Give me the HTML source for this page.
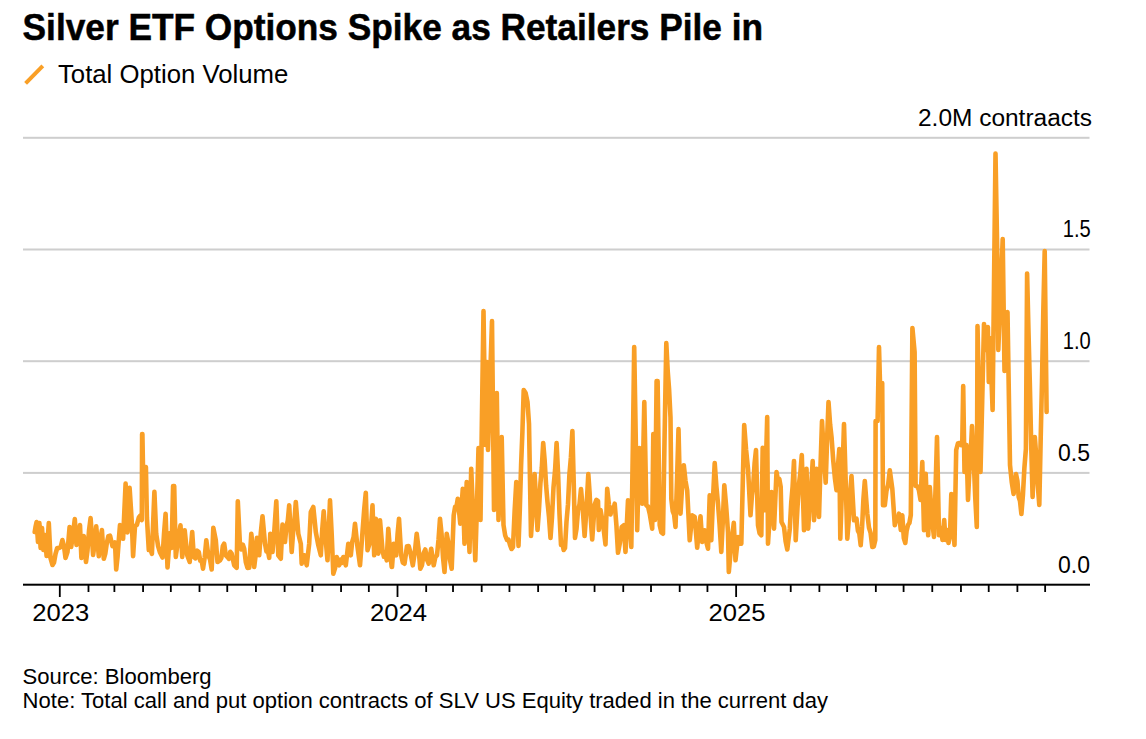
<!DOCTYPE html>
<html><head><meta charset="utf-8"><style>
html,body{margin:0;padding:0;background:#fff;width:1146px;height:739px;overflow:hidden}
svg{display:block}
text{font-family:"Liberation Sans",sans-serif;fill:#000}
.t{font-weight:bold;font-size:37px;stroke:#000;stroke-width:0.5px}
.lg{font-size:25px}
.ax{font-size:23px}
.ft{font-size:22px}
</style></head><body>
<svg width="1146" height="739" viewBox="0 0 1146 739">
<text x="22.6" y="40" class="t" textLength="740.5" lengthAdjust="spacingAndGlyphs">Silver ETF Options Spike as Retailers Pile in</text>
<line x1="25.6" y1="83.4" x2="42.8" y2="65.9" stroke="#F99F26" stroke-width="4" stroke-linecap="butt"/>
<text x="58" y="82.5" class="lg" textLength="230.2" lengthAdjust="spacingAndGlyphs">Total Option Volume</text>
<g fill="#cecece">
<rect x="23" y="136.8" width="1066.5" height="2"/>
<rect x="23" y="248.5" width="1066.5" height="2"/>
<rect x="23" y="360.2" width="1066.5" height="2"/>
<rect x="23" y="471.9" width="1066.5" height="2"/>
</g>
<g text-anchor="end" class="ax">
<text x="1092" y="126" textLength="174" lengthAdjust="spacingAndGlyphs">2.0M contraacts</text>
<text x="1090.8" y="237" textLength="28" lengthAdjust="spacingAndGlyphs">1.5</text>
<text x="1090.8" y="349" textLength="28" lengthAdjust="spacingAndGlyphs">1.0</text>
<text x="1090" y="461">0.5</text>
<text x="1090" y="573">0.0</text>
</g>
<path d="M34.7,532.0 L35.5,527.0 L36.6,522.0 L38.0,542.0 L39.4,523.0 L40.6,548.0 L42.0,528.0 L43.4,550.0 L45.0,535.0 L46.6,556.0 L48.8,523.0 L50.5,558.0 L52.5,565.0 L54.0,562.5 L55.5,554.0 L57.2,548.0 L59.0,548.0 L60.7,547.0 L62.4,540.0 L64.0,546.0 L65.5,558.0 L67.5,552.0 L69.6,527.0 L71.2,547.0 L73.0,534.0 L74.8,519.0 L76.5,545.0 L78.2,538.0 L80.0,525.0 L81.4,558.0 L83.8,536.0 L86.0,562.0 L87.5,550.4 L89.1,529.7 L90.6,518.1 L93.1,555.0 L94.7,543.6 L96.2,526.2 L98.8,556.2 L100.3,540.1 L101.9,530.0 L103.8,558.8 L105.3,553.6 L106.9,542.5 L108.4,536.1 L110.0,535.6 L112.5,546.2 L115.0,542.5 L116.2,569.4 L117.6,556.4 L119.0,537.5 L120.0,525.0 L121.6,528.9 L123.1,538.8 L125.6,483.5 L127.5,532.5 L129.6,487.9 L131.9,523.8 L133.1,556.2 L135.0,526.2 L136.9,524.9 L138.8,517.5 L140.2,515.8 L141.8,520.0 L142.1,434.0 L142.4,434.0 L143.2,480.0 L144.6,476.5 L145.9,467.0 L146.9,517.5 L148.8,550.0 L150.3,548.9 L151.9,553.8 L154.4,491.9 L156.2,533.8 L158.1,546.1 L160.0,552.5 L162.5,557.5 L164.1,532.6 L165.6,513.8 L167.5,567.5 L170.0,533.0 L171.6,548.0 L173.1,486.0 L174.2,486.0 L175.8,557.0 L178.0,540.0 L180.5,525.3 L182.2,557.0 L184.7,530.3 L187.2,555.3 L189.7,562.0 L192.2,532.0 L193.8,557.0 L195.5,558.3 L197.2,550.7 L198.8,552.0 L200.2,560.6 L201.6,560.1 L203.0,568.7 L204.7,557.5 L206.3,540.3 L208.3,555.3 L210.0,559.4 L211.7,569.5 L213.3,527.8 L215.8,540.3 L217.5,562.0 L220.0,560.3 L221.4,557.8 L222.8,546.2 L224.2,543.7 L225.8,555.3 L227.5,557.0 L228.9,558.9 L230.3,551.8 L231.7,553.7 L234.2,565.3 L236.7,567.8 L237.8,501.2 L240.0,545.3 L241.4,549.4 L242.8,544.6 L244.2,548.7 L245.8,562.0 L247.5,567.9 L249.2,567.8 L251.3,533.7 L252.8,547.3 L254.2,567.0 L255.6,555.4 L257.0,537.8 L259.2,555.3 L260.8,532.8 L262.5,516.2 L265.0,543.7 L266.4,551.4 L267.8,550.1 L269.2,557.8 L270.3,533.7 L272.5,552.0 L274.4,529.6 L276.3,501.2 L278.3,555.3 L280.8,558.7 L282.5,524.5 L285.0,542.0 L286.4,526.8 L287.8,520.6 L289.2,505.3 L291.7,552.0 L293.1,532.3 L294.4,521.7 L295.8,502.0 L298.3,533.7 L300.8,543.7 L301.7,563.7 L304.2,555.3 L306.7,565.3 L309.2,543.7 L310.8,512.0 L313.3,507.0 L315.8,532.0 L318.3,545.3 L320.8,555.3 L322.2,530.2 L323.7,511.2 L325.6,538.8 L327.5,560.3 L330.0,500.3 L331.7,534.0 L333.3,573.7 L335.0,568.3 L336.7,557.0 L339.2,565.3 L340.6,559.6 L341.9,562.8 L343.3,557.0 L345.8,565.3 L348.3,543.7 L350.8,555.3 L352.2,541.8 L353.6,537.2 L355.0,523.7 L357.5,547.0 L360.0,565.3 L362.5,532.0 L364.2,509.4 L365.8,492.8 L367.5,550.3 L370.0,542.0 L372.5,505.3 L374.2,555.3 L375.8,518.7 L378.3,553.7 L380.0,520.3 L382.5,550.3 L383.9,556.7 L385.3,554.0 L386.7,560.3 L388.3,528.7 L390.0,550.8 L391.7,567.0 L392.0,567.0 L393.7,543.7 L396.2,555.3 L397.6,534.0 L399.0,518.7 L401.2,555.3 L402.8,562.5 L404.5,563.7 L407.0,546.2 L408.7,546.1 L410.3,552.0 L412.8,565.3 L414.8,552.5 L416.7,533.7 L418.5,548.2 L420.3,568.7 L422.0,565.3 L423.7,552.9 L425.3,549.5 L427.0,559.6 L428.7,563.7 L431.2,548.7 L433.7,565.3 L435.3,557.3 L437.0,555.3 L438.5,540.0 L440.0,518.7 L441.5,533.4 L443.0,557.2 L444.5,572.0 L446.7,533.7 L448.3,542.3 L450.0,560.0 L451.7,568.7 L453.7,515.3 L455.1,506.8 L456.4,507.2 L457.8,498.7 L460.3,523.7 L462.8,488.7 L464.5,543.7 L466.7,482.0 L468.1,514.0 L469.5,552.0 L471.2,468.7 L472.6,502.2 L473.9,526.8 L475.3,560.3 L476.9,507.2 L478.5,448.0 L480.5,520.0 L482.0,412.5 L483.5,311.0 L485.5,445.0 L487.0,362.0 L488.0,450.0 L489.3,410.0 L490.7,361.0 L492.0,321.0 L494.0,510.0 L495.4,454.5 L496.8,393.0 L498.5,520.0 L500.1,475.5 L501.7,437.0 L503.5,525.0 L505.2,535.5 L507.0,540.0 L508.5,539.5 L510.0,545.0 L511.5,549.0 L513.0,547.0 L514.6,511.5 L516.3,482.0 L518.5,546.0 L519.8,510.0 L521.1,465.0 L522.4,432.0 L523.7,390.0 L525.6,393.0 L527.5,402.0 L529.0,424.0 L531.0,536.0 L532.8,508.0 L534.6,474.0 L536.0,499.0 L537.5,530.0 L538.9,511.2 L540.4,483.5 L541.8,467.8 L543.2,443.0 L544.6,459.7 L546.1,485.3 L547.5,502.0 L549.0,517.0 L550.5,538.0 L552.0,517.2 L553.5,487.5 L555.1,469.8 L556.6,443.0 L558.1,474.0 L559.5,514.0 L561.0,545.0 L562.3,543.0 L563.7,550.0 L565.0,548.0 L566.5,521.6 L568.0,504.2 L569.4,474.8 L570.9,457.4 L572.4,431.0 L573.7,481.5 L575.0,538.0 L576.5,528.8 L578.0,510.5 L579.5,504.2 L581.0,489.0 L582.8,509.5 L584.6,536.0 L586.5,508.0 L588.3,474.0 L589.6,492.8 L590.9,520.7 L592.2,539.5 L594.7,504.5 L596.4,499.8 L598.0,501.0 L598.8,530.0 L600.5,510.0 L603.0,523.7 L605.5,544.5 L607.2,488.7 L608.9,504.6 L610.5,514.5 L611.9,507.9 L613.3,510.3 L614.7,503.7 L616.4,525.2 L618.0,552.8 L619.9,542.9 L621.7,527.0 L623.8,525.3 L625.5,552.0 L628.0,500.3 L629.6,520.6 L631.3,547.0 L632.8,450.0 L634.2,347.0 L635.7,435.6 L637.2,530.3 L639.3,448.0 L640.8,478.9 L642.2,503.7 L644.3,402.0 L646.3,505.3 L648.0,506.5 L649.7,513.7 L652.2,528.7 L653.3,434.0 L655.0,520.0 L656.6,381.0 L657.6,381.0 L659.7,525.3 L661.4,532.5 L663.0,533.7 L664.6,435.4 L666.3,343.0 L667.7,370.8 L669.1,389.5 L670.5,417.3 L671.3,498.7 L672.7,511.1 L674.1,514.6 L675.5,527.0 L677.0,481.0 L678.5,429.0 L680.5,513.7 L682.1,486.5 L683.8,465.3 L685.5,480.8 L687.2,490.3 L689.7,540.3 L692.2,515.3 L694.7,517.0 L697.2,547.8 L698.9,529.0 L700.5,516.2 L702.2,542.0 L704.7,530.3 L706.4,542.5 L708.0,548.7 L709.7,495.3 L711.3,540.3 L713.0,498.6 L714.7,463.0 L716.4,486.4 L718.0,503.7 L719.6,524.9 L721.3,552.0 L722.8,521.6 L724.3,485.3 L726.1,505.6 L728.0,532.0 L728.8,572.0 L731.3,543.7 L733.8,522.8 L735.5,560.3 L738.0,537.0 L739.6,543.4 L741.3,543.7 L742.8,481.4 L744.2,425.0 L746.1,449.9 L748.0,468.7 L750.5,515.3 L751.9,496.0 L753.2,485.6 L754.6,463.3 L756.0,450.0 L758.0,525.3 L759.6,533.3 L761.3,535.3 L762.7,447.7 L764.7,510.3 L767.2,417.0 L768.0,543.7 L769.8,514.9 L771.5,492.0 L774.0,528.7 L776.5,472.0 L777.9,480.0 L779.3,479.0 L780.7,487.0 L781.5,522.0 L784.0,527.0 L785.6,541.2 L787.3,549.5 L789.8,528.7 L791.2,503.1 L792.6,486.6 L794.0,461.0 L795.7,540.3 L797.4,509.0 L799.0,483.7 L800.4,472.4 L801.8,455.0 L804.0,530.3 L806.5,468.7 L808.2,528.7 L809.7,503.1 L811.2,486.6 L812.7,461.0 L814.0,520.3 L816.5,468.7 L819.0,517.0 L820.5,466.0 L822.0,421.0 L823.9,454.9 L825.7,482.8 L827.1,439.4 L828.5,402.0 L830.1,424.3 L831.6,437.7 L833.2,460.0 L834.9,478.1 L836.5,490.3 L837.9,466.6 L839.3,449.0 L840.3,538.7 L842.1,484.4 L844.0,424.0 L845.6,478.4 L847.3,538.7 L848.7,520.8 L850.1,493.9 L851.5,476.0 L854.0,520.3 L856.5,518.7 L857.9,530.6 L859.3,533.4 L860.7,545.3 L862.1,526.9 L863.4,499.4 L864.8,481.0 L867.3,513.7 L869.0,527.8 L870.6,532.9 L872.3,547.0 L873.8,546.5 L875.3,540.0 L875.6,421.0 L877.6,421.0 L879.0,347.0 L880.0,383.0 L882.2,383.0 L883.0,505.3 L884.8,505.3 L886.5,490.6 L888.1,485.0 L889.8,470.3 L892.3,488.7 L894.8,525.3 L896.2,518.4 L897.6,520.6 L899.0,513.7 L900.8,530.0 L902.3,515.3 L903.8,538.0 L905.3,543.0 L906.6,531.0 L908.0,525.0 L909.4,523.0 L910.8,515.0 L912.4,328.0 L914.6,352.0 L915.6,486.0 L917.3,486.2 L918.9,490.1 L920.5,500.0 L922.3,462.0 L924.0,530.3 L925.7,473.7 L928.2,535.3 L929.8,487.0 L932.0,520.0 L934.0,537.0 L935.5,490.0 L937.0,437.0 L939.0,535.3 L941.0,528.0 L942.5,540.0 L944.2,520.0 L945.5,540.0 L947.0,530.0 L948.5,543.0 L950.0,535.0 L951.3,494.0 L952.5,520.0 L954.5,545.0 L956.2,450.0 L957.9,443.5 L959.5,443.0 L960.9,445.0 L962.3,441.0 L963.2,386.0 L964.5,472.0 L965.0,472.0 L966.5,445.0 L968.0,500.0 L969.3,472.3 L970.7,453.7 L972.0,426.0 L973.6,456.7 L975.2,496.3 L976.8,527.0 L977.5,326.0 L979.0,396.0 L980.5,472.0 L982.2,401.0 L984.0,324.0 L986.0,350.0 L987.9,327.0 L988.8,382.0 L989.8,338.0 L991.2,371.0 L992.6,410.0 L994.0,284.8 L995.5,153.5 L997.4,262.0 L998.3,350.0 L999.8,310.0 L1001.2,279.0 L1002.7,239.0 L1004.5,371.0 L1006.0,338.5 L1007.5,312.0 L1010.0,465.0 L1011.8,482.5 L1013.6,494.0 L1016.0,474.0 L1017.4,481.0 L1018.7,497.0 L1020.0,501.0 L1021.4,514.0 L1022.9,495.3 L1024.4,467.7 L1025.9,449.0 L1027.1,273.5 L1028.5,332.4 L1029.8,382.2 L1031.2,444.1 L1032.6,497.0 L1034.8,437.0 L1036.3,456.7 L1037.8,485.3 L1039.3,505.0 L1040.7,438.5 L1042.0,381.0 L1043.3,311.5 L1044.7,251.0 L1046.6,412.0" fill="none" stroke="#F99F26" stroke-width="4.6" stroke-linejoin="round" stroke-linecap="round"/>
<rect x="23" y="583.7" width="1067" height="2" fill="#000"/>
<rect x="58.90" y="585" width="1.8" height="12" fill="#000"/><rect x="87.58" y="585" width="1.8" height="7" fill="#000"/><rect x="113.49" y="585" width="1.8" height="7" fill="#000"/><rect x="142.17" y="585" width="1.8" height="7" fill="#000"/><rect x="169.92" y="585" width="1.8" height="7" fill="#000"/><rect x="198.61" y="585" width="1.8" height="7" fill="#000"/><rect x="226.36" y="585" width="1.8" height="7" fill="#000"/><rect x="255.04" y="585" width="1.8" height="7" fill="#000"/><rect x="283.72" y="585" width="1.8" height="7" fill="#000"/><rect x="311.48" y="585" width="1.8" height="7" fill="#000"/><rect x="340.16" y="585" width="1.8" height="7" fill="#000"/><rect x="367.92" y="585" width="1.8" height="7" fill="#000"/><rect x="396.60" y="585" width="1.8" height="12" fill="#000"/><rect x="425.28" y="585" width="1.8" height="7" fill="#000"/><rect x="452.11" y="585" width="1.8" height="7" fill="#000"/><rect x="480.79" y="585" width="1.8" height="7" fill="#000"/><rect x="508.55" y="585" width="1.8" height="7" fill="#000"/><rect x="537.23" y="585" width="1.8" height="7" fill="#000"/><rect x="564.99" y="585" width="1.8" height="7" fill="#000"/><rect x="593.67" y="585" width="1.8" height="7" fill="#000"/><rect x="622.35" y="585" width="1.8" height="7" fill="#000"/><rect x="650.11" y="585" width="1.8" height="7" fill="#000"/><rect x="678.79" y="585" width="1.8" height="7" fill="#000"/><rect x="706.54" y="585" width="1.8" height="7" fill="#000"/><rect x="735.23" y="585" width="1.8" height="12" fill="#000"/><rect x="763.91" y="585" width="1.8" height="7" fill="#000"/><rect x="789.81" y="585" width="1.8" height="7" fill="#000"/><rect x="818.49" y="585" width="1.8" height="7" fill="#000"/><rect x="846.25" y="585" width="1.8" height="7" fill="#000"/><rect x="874.93" y="585" width="1.8" height="7" fill="#000"/><rect x="902.69" y="585" width="1.8" height="7" fill="#000"/><rect x="931.37" y="585" width="1.8" height="7" fill="#000"/><rect x="960.05" y="585" width="1.8" height="7" fill="#000"/><rect x="987.81" y="585" width="1.8" height="7" fill="#000"/><rect x="1016.49" y="585" width="1.8" height="7" fill="#000"/><rect x="1044.24" y="585" width="1.8" height="7" fill="#000"/>
<text x="60.8" y="621" text-anchor="middle" class="ax" textLength="57" lengthAdjust="spacingAndGlyphs">2023</text><text x="398.5" y="621" text-anchor="middle" class="ax" textLength="57" lengthAdjust="spacingAndGlyphs">2024</text><text x="737.1" y="621" text-anchor="middle" class="ax" textLength="57" lengthAdjust="spacingAndGlyphs">2025</text>
<text x="22.6" y="684" class="ft" textLength="189" lengthAdjust="spacingAndGlyphs">Source: Bloomberg</text>
<text x="22.6" y="708" class="ft" textLength="805.5" lengthAdjust="spacingAndGlyphs">Note: Total call and put option contracts of SLV US Equity traded in the current day</text>
</svg>
</body></html>
